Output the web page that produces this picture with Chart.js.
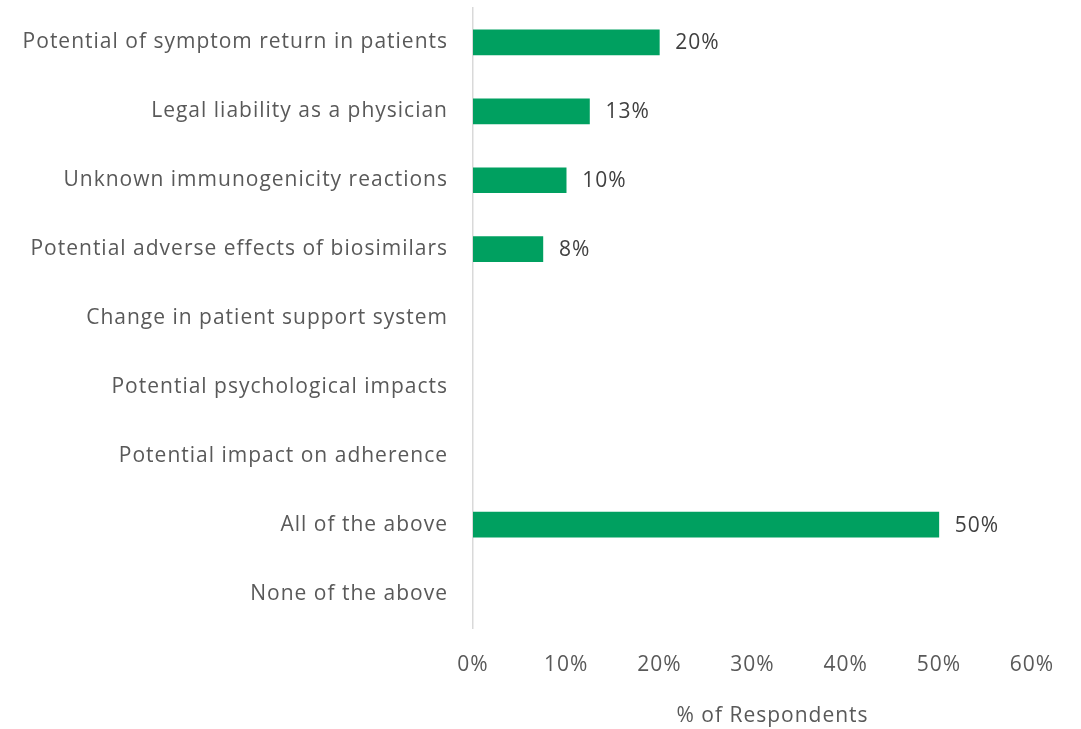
<!DOCTYPE html>
<html>
<head>
<meta charset="utf-8">
<script src="https://cdn.jsdelivr.net/npm/chart.js@4/dist/chart.umd.min.js"></script>
<style>
  html, body { margin: 0; padding: 0; background: #ffffff; }
  #wrap { width: 1081px; height: 729px; position: relative; }
</style>
</head>
<body>
<div id="wrap"><canvas id="c" width="1081" height="729"></canvas></div>
<script>
const categories = [
  "Potential of symptom return in patients",
  "Legal liability as a physician",
  "Unknown immunogenicity reactions",
  "Potential adverse effects of biosimilars",
  "Change in patient support system",
  "Potential psychological impacts",
  "Potential impact on adherence",
  "All of the above",
  "None of the above"
];
const respondentsPct = [20, 12.5, 10, 7.5, null, null, null, 50, null];
const xTicks = [0, 10, 20, 30, 40, 50, 60];
const xTitle = "% of Respondents";

const FONT = "'Open Sans', 'Liberation Sans', Arial, sans-serif";
const SPACING = '1px';

const spacingPlugin = {
  id: 'spacing',
  beforeLayout(chart) { chart.ctx.letterSpacing = SPACING; },
  beforeDraw(chart) { chart.ctx.letterSpacing = SPACING; }
};

const dataLabels = {
  id: 'dataLabels',
  afterDatasetsDraw(chart) {
    const ctx = chart.ctx;
    const meta = chart.getDatasetMeta(0);
    ctx.save();
    ctx.letterSpacing = '1px';
    ctx.font = "21px " + FONT;
    ctx.fillStyle = '#404040';
    ctx.textAlign = 'left';
    ctx.textBaseline = 'middle';
    meta.data.forEach((bar, i) => {
      const v = respondentsPct[i];
      if (v === null || v === undefined) return;
      ctx.fillText(Math.round(v) + '%', bar.x + 16, bar.y + 1);
    });
    ctx.restore();
  }
};

const axisTitle = {
  id: 'axisTitle',
  afterDraw(chart) {
    const ctx = chart.ctx;
    const a = chart.chartArea;
    ctx.save();
    ctx.letterSpacing = '1px';
    ctx.font = "21px " + FONT;
    ctx.fillStyle = '#595959';
    ctx.textAlign = 'center';
    ctx.textBaseline = 'middle';
    ctx.fillText(xTitle, (a.left + a.right) / 2 + 20, 716);
    ctx.restore();
  }
};

new Chart(document.getElementById('c'), {
  type: 'bar',
  data: {
    labels: categories,
    datasets: [{
      data: respondentsPct,
      backgroundColor: '#00A060',
      borderWidth: 0,
      barThickness: 25
    }]
  },
  plugins: [spacingPlugin, dataLabels, axisTitle],
  options: {
    indexAxis: 'y',
    responsive: false,
    animation: false,
    devicePixelRatio: 1,
    layout: { padding: { left: 0, right: 49, top: 8, bottom: 0 } },
    plugins: { legend: { display: false }, tooltip: { enabled: false } },
    scales: {
      x: {
        type: 'linear',
        min: 0, max: 60,
        afterBuildTicks(scale) { scale.ticks = xTicks.map(v => ({ value: v })); },
        afterFit(scale) { scale.height = 101; },
        grid: { display: false, drawTicks: false },
        border: { display: false },
        ticks: {
          padding: 24,
          color: '#595959',
          font: { family: FONT, size: 21 },
          callback: v => v + '%'
        }
      },
      y: {
        afterFit(scale) { scale.width = 473; scale.paddingTop = 0; scale.paddingBottom = 0; },
        grid: { display: false, drawTicks: false },
        border: { display: true, color: '#d9d9d9', width: 1.5 },
        ticks: {
          padding: 25,
          color: '#595959',
          font: { family: FONT, size: 21 }
        }
      }
    }
  }
});
</script>
</body>
</html>
